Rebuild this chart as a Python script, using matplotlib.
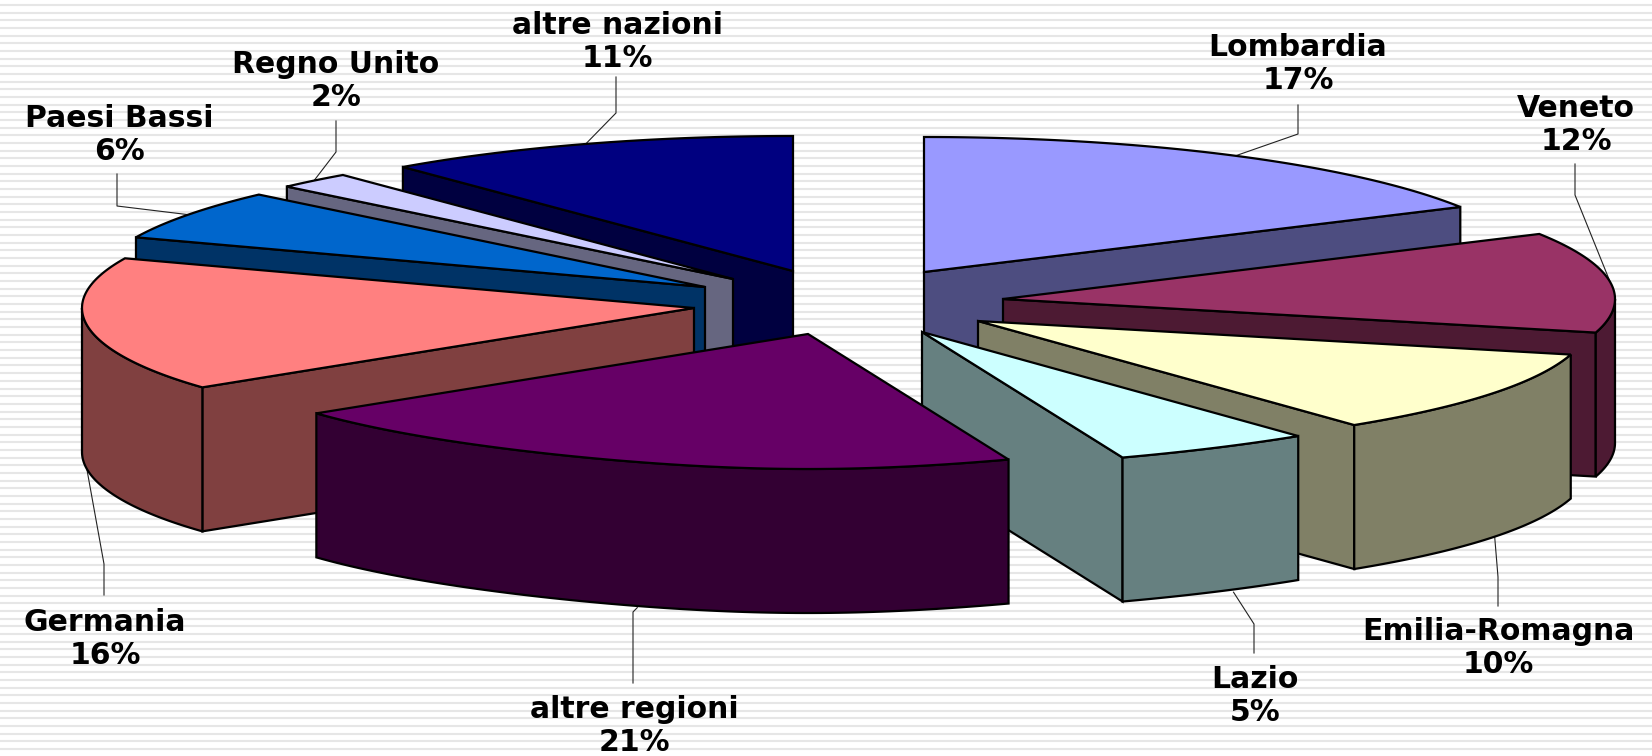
import matplotlib
matplotlib.use('Agg')
import matplotlib.pyplot as plt
from matplotlib.patches import Polygon
import numpy as np

# data, clockwise from the top of the pie
labels = ['Lombardia', 'Veneto', 'Emilia-Romagna', 'Lazio', 'altre regioni',
          'Germania', 'Paesi Bassi', 'Regno Unito', 'altre nazioni']
values = [17, 12, 10, 5, 21, 16, 6, 2, 11]
colors = ['#9999FF', '#993366', '#FFFFCC', '#CCFFFF', '#660066',
          '#FF8080', '#0066CC', '#CCCCFF', '#000080']

# where each exploded slice has its tip (pixels)
tip_x = [924, 1003, 978, 922, 808, 694, 705, 733, 793]
tip_y = [272, 299, 321, 332, 334, 308, 287, 279, 271]

# label centres and leader elbows (pixels)
label_x = [1298, 1576, 1498, 1255, 634, 105, 119, 336, 617]
label_y = [64, 125, 648, 696, 726, 639, 135, 81, 42]
elbow_x = [1298, 1575, 1498, 1254, 633, 104, 117, 336, 616]
elbow_y = [134, 195, 577, 624, 612, 564, 206, 152, 113]
start_x = [1298, 1575, 1498, 1254, 633, 104, 117, 336, 616]
start_y = [105, 164, 606, 653, 683, 595, 174, 121, 77]

rx, ry, depth = 612, 135, 144
edge = '#000000'
lw = 1.6

fig = plt.figure(figsize=(16.52, 7.56), dpi=100)
ax = fig.add_axes([0, 0, 1, 1])
ax.set_xlim(0, 1652)
ax.set_ylim(756, 0)
ax.axis('off')

# striped background
ax.hlines(np.arange(5, 756, 7.67), 0, 1652, color='#E6E6E6', lw=1.5, zorder=0)


def rim(cx, cy, t):
    # the front of the pie is drawn a little narrower, as in the 3d view
    squeeze = 1 - 0.17 * np.clip(-np.cos(t), 0, 1) ** 6
    return cx + rx * np.sin(t) * squeeze, cy - ry * np.cos(t)


def darker(c):
    r, g, b = matplotlib.colors.to_rgb(c)
    return (r * 0.5, g * 0.5, b * 0.5)


ends = np.cumsum(values) * 3.6
starts = ends - np.array(values) * 3.6

# leaders
for i in range(len(labels)):
    mid = np.radians((starts[i] + ends[i]) / 2)
    x = tip_x[i] + rx * np.sin(mid)
    y = tip_y[i] - ry * np.cos(mid)
    if np.cos(mid) < 0:
        y += depth
    ax.plot([start_x[i], elbow_x[i], x], [start_y[i], elbow_y[i], y],
            color='#222222', lw=0.8, zorder=1)

# slices back to front
order = np.argsort(tip_y)
for n, i in enumerate(order):
    z = 2 + n
    cx, cy = tip_x[i], tip_y[i]
    t0, t1 = np.radians(starts[i]), np.radians(ends[i])
    side = darker(colors[i])

    for t, visible in ((t0, np.sin(t0) < -1e-9), (t1, np.sin(t1) > 1e-9)):
        if visible:
            x, y = rim(cx, cy, t)
            ax.add_patch(Polygon([(cx, cy), (x, y), (x, y + depth), (cx, cy + depth)],
                                 facecolor=side, edgecolor=edge, lw=lw, zorder=z,
                                 joinstyle='miter'))

    # outer wall, only the part turned to the viewer
    a0, a1 = max(t0, np.pi / 2), min(t1, 3 * np.pi / 2)
    if a1 > a0:
        t = np.linspace(a0, a1, 80)
        x, y = rim(cx, cy, t)
        pts = np.r_[np.c_[x, y], np.c_[x, y + depth][::-1]]
        ax.add_patch(Polygon(pts, facecolor=side, edgecolor=edge, lw=lw, zorder=z,
                             joinstyle='miter'))

    t = np.linspace(t0, t1, 120)
    x, y = rim(cx, cy, t)
    pts = np.r_[[(cx, cy)], np.c_[x, y]]
    ax.add_patch(Polygon(pts, facecolor=colors[i], edgecolor=edge, lw=lw, zorder=z,
                         joinstyle='miter'))

for i in range(len(labels)):
    ax.text(label_x[i], label_y[i], '%s\n%d%%' % (labels[i], values[i]),
            ha='center', va='center', fontsize=21.5, fontweight='bold',
            family='DejaVu Sans', linespacing=1.2, color='black', zorder=50)

fig.savefig('out.png', dpi=100)
